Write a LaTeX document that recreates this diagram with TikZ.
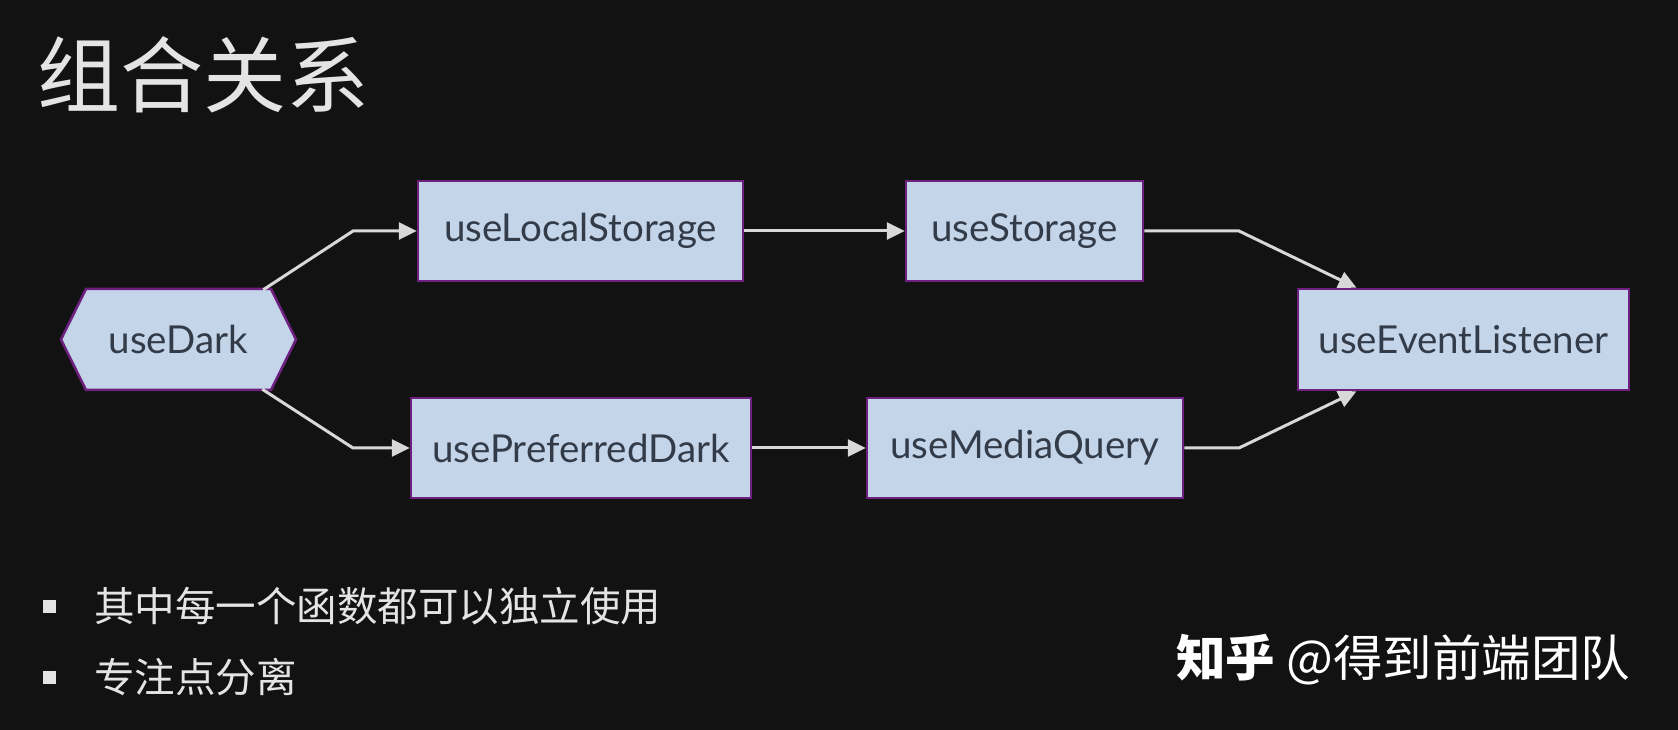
\documentclass[tikz,border=0pt]{standalone}
\usepackage{fontspec}
\setmainfont{Lato}
\newfontfamily\cjk{Noto Sans CJK SC}
\usetikzlibrary{arrows.meta,calc}
\definecolor{bg}{HTML}{121212}
\definecolor{boxfill}{HTML}{C4D5EA}
\definecolor{boxline}{HTML}{6E2080}
\definecolor{boxtext}{HTML}{333B48}
\definecolor{lightfg}{HTML}{E4E4E4}
\definecolor{arrowc}{HTML}{D8D8D8}
\tikzset{
  hook/.style={draw=boxline, fill=boxfill, line width=2.5pt, minimum height=100pt,
    inner xsep=0pt, text=boxtext, font=\fontsize{38.5}{46}\selectfont},
  hexlabel/.style={inner sep=0pt, text=boxtext, font=\fontsize{38.5}{46}\selectfont, minimum width=235pt, minimum height=101pt},
  hexshape/.style={draw=boxline, fill=boxfill, line width=2.5pt, line join=miter},
  link/.style={draw=arrowc, line width=3pt, -{Triangle[length=18pt,width=17pt]}},
  bulletsq/.style={fill=lightfg, minimum size=13pt, inner sep=0pt},
  bullettext/.style={text=lightfg, anchor=west, inner sep=0pt, font=\cjk\fontsize{40.5}{49}\selectfont},
}
\begin{document}
\begin{tikzpicture}[x=1pt,y=1pt]
\useasboundingbox (0,0) rectangle (1678,730);
\fill[bg] (0,0) rectangle (1678,730);
% title
\node[anchor=west, inner sep=0pt, text=lightfg, font=\cjk\fontsize{83}{100}\selectfont] (title) at (37,655) {组合关系};
% hexagon
\coordinate (hc) at (178.5,390.5);
\draw[hexshape] ($(hc)+(-117.5,0)$) -- ($(hc)+(-92.5,50.5)$) -- ($(hc)+(92.5,50.5)$) -- ($(hc)+(117.5,0)$) -- ($(hc)+(92.5,-50.5)$) -- ($(hc)+(-92.5,-50.5)$) -- cycle;
\node[hexlabel] (dark) at (hc) {useDark};
% boxes
\node[hook, minimum width=325pt] (ls) at (580.5,499) {useLocalStorage};
\node[hook, minimum width=237pt] (st) at (1024.5,499) {useStorage};
\node[hook, minimum width=340pt] (pd) at (581,282) {usePreferredDark};
\node[hook, minimum width=316pt] (mq) at (1025,282) {useMediaQuery};
\node[hook, minimum width=331pt, minimum height=101pt] (el) at (1463.5,390.5) {useEventListener};
% bend points
\coordinate (b1) at (353,499);
\coordinate (b2) at (353,282);
\coordinate (b3) at (1239,499);
\coordinate (b4) at (1239,282);
% connectors
\draw[link] ([xshift=-33pt,yshift=-1pt]dark.north east) -- (b1) -- (ls.west);
\draw[link] ([xshift=-34pt,yshift=1pt]dark.south east) -- (b2) -- (pd.west);
\draw[link] (ls.east) -- (st.west);
\draw[link] (pd.east) -- (mq.west);
\draw[link] (st.east) -- (b3) -- ([xshift=-107pt]el.north);
\draw[link] (mq.east) -- (b4) -- ([xshift=-107pt]el.south);
% bullets
\node[bulletsq] (sq1) at (49.5,123.5) {};
\node[bullettext] (t1) at (94,124) {其中每一个函数都可以独立使用};
\node[bulletsq] (sq2) at (49.5,52) {};
\node[bullettext] (t2) at (94,53) {专注点分离};
% watermark
\node[anchor=west, inner sep=0pt, text=white, font=\cjk\fontsize{49.5}{60}\selectfont] (wm) at (1176,70) {{\bfseries 知乎} @得到前端团队};
\end{tikzpicture}
\end{document}
